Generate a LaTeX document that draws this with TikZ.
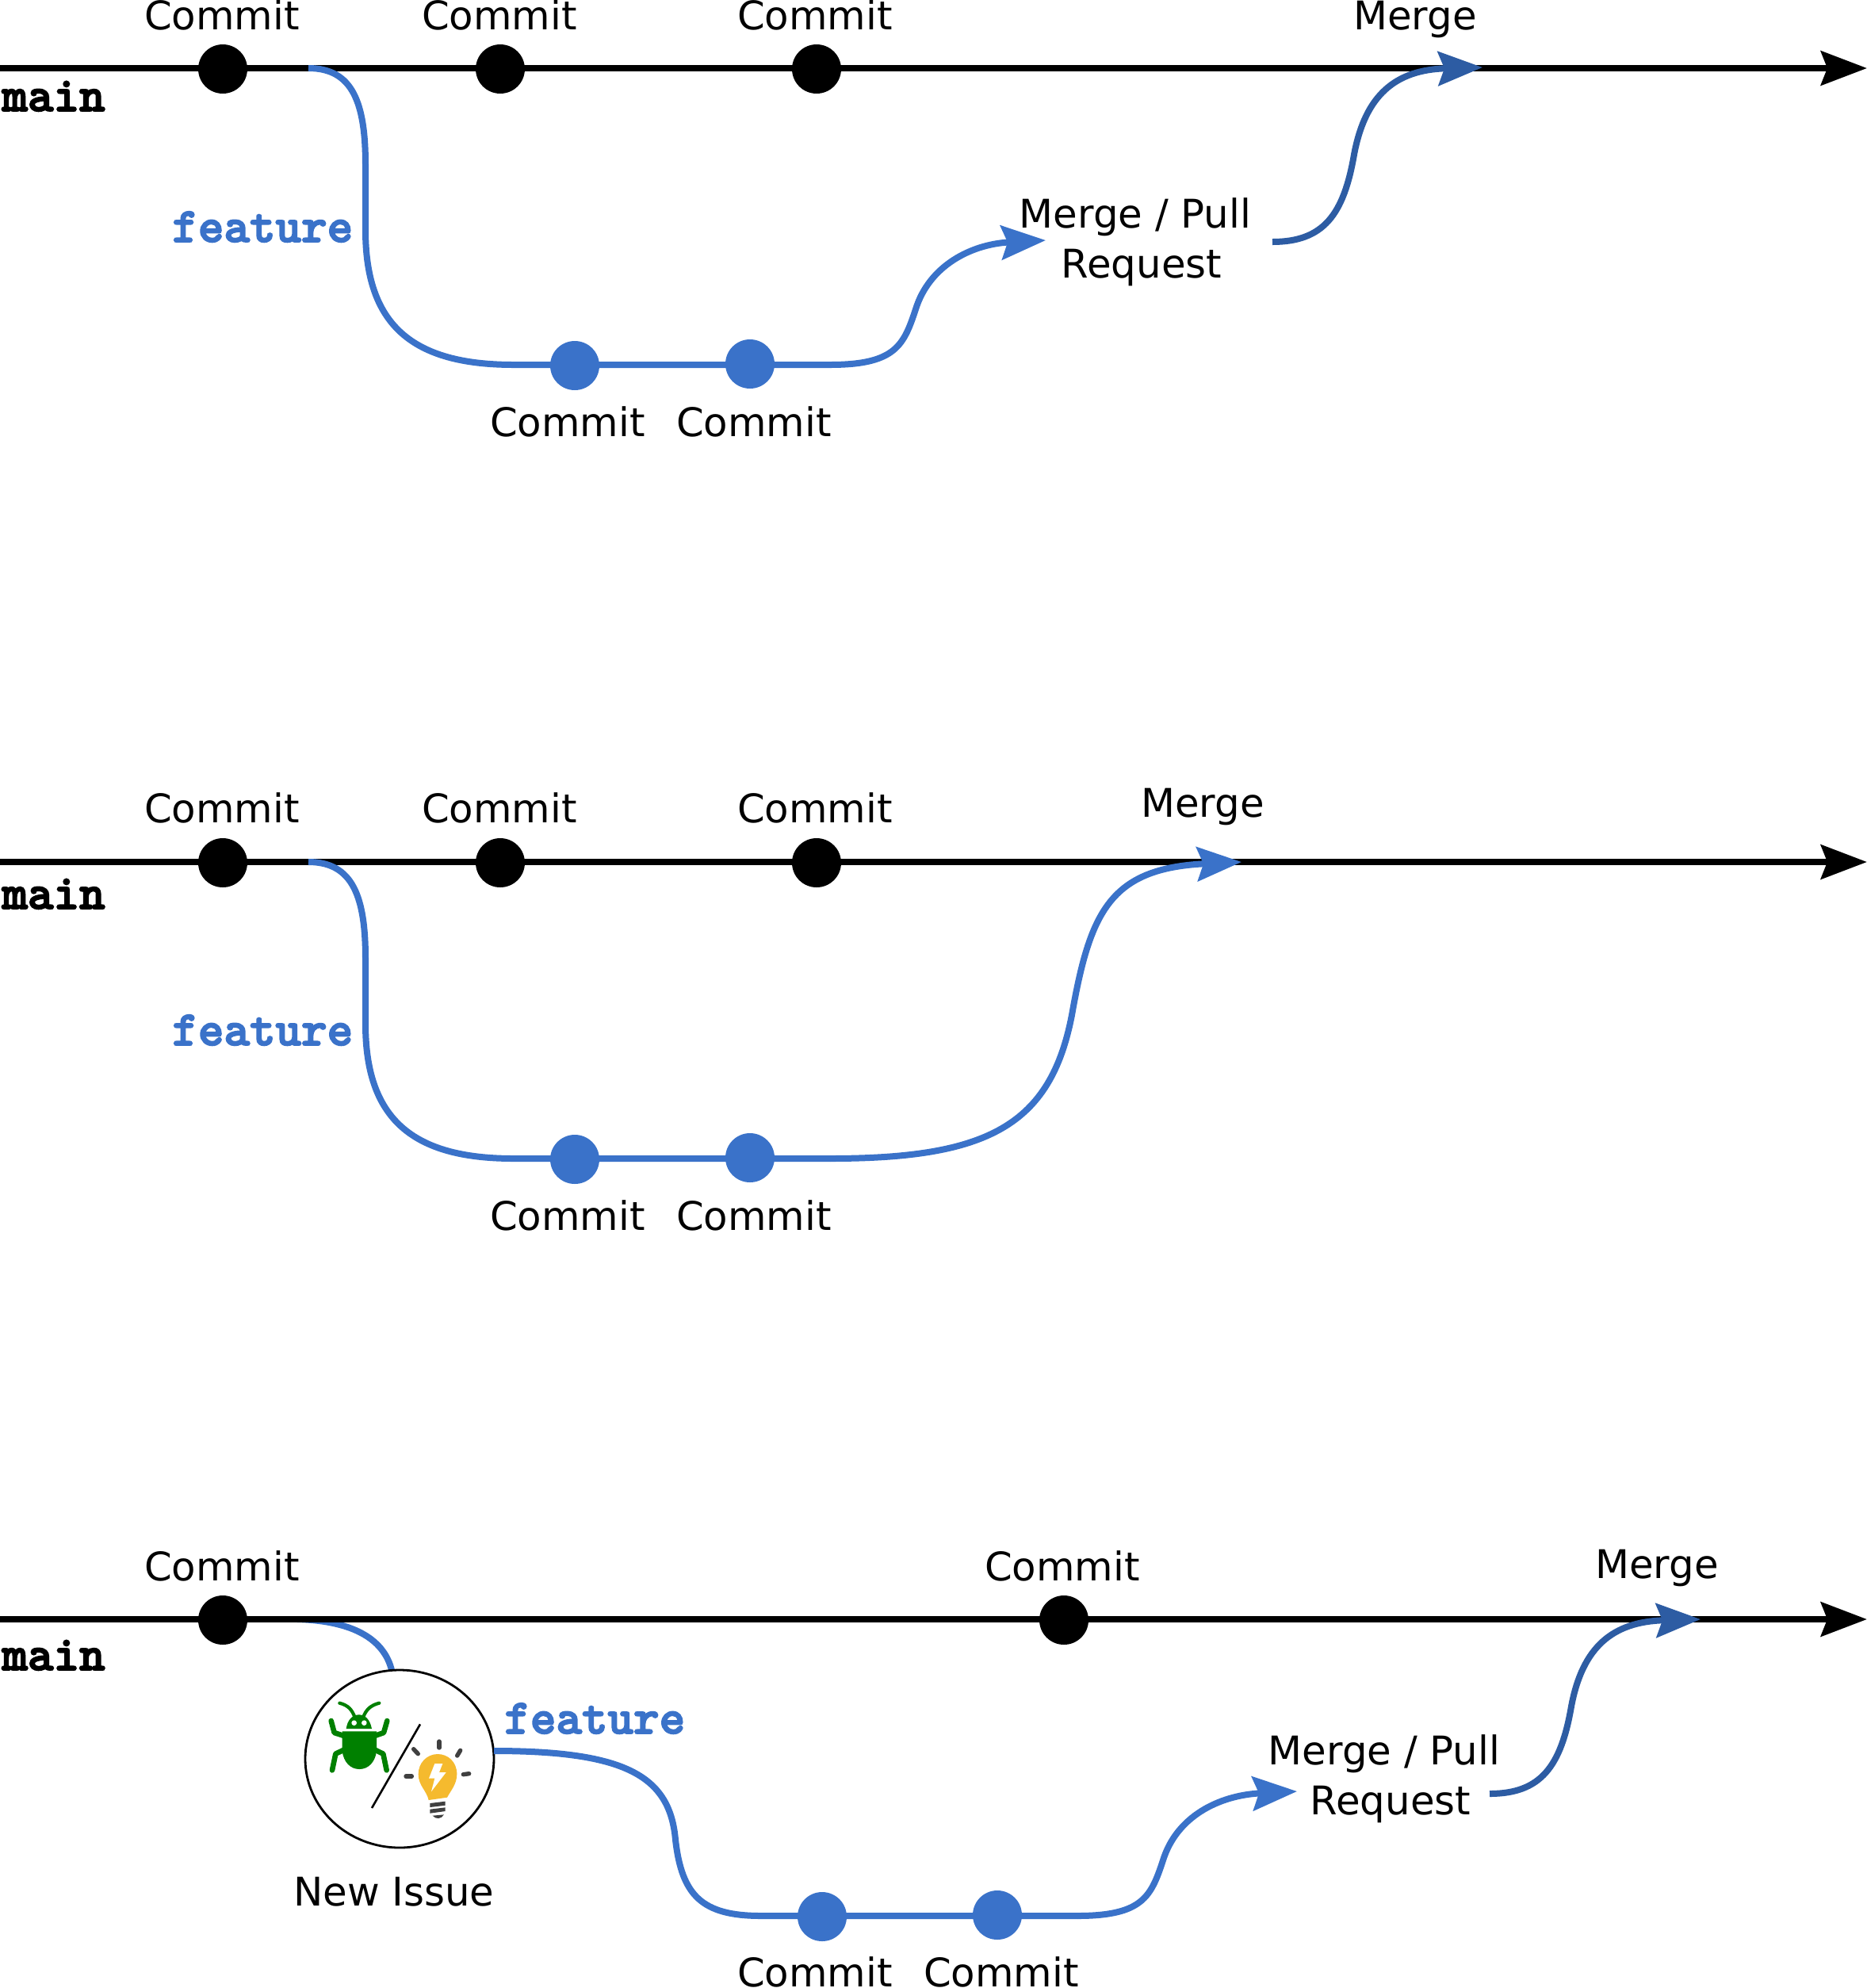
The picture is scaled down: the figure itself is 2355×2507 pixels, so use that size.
\documentclass[tikz,border=0pt]{standalone}
\usepackage{fontspec}
\setmainfont{DejaVu Sans}
\usetikzlibrary{arrows.meta,shapes.geometric}
\definecolor{fblue}{HTML}{3A72C9}
\definecolor{mblue}{HTML}{2D5CA3}
\definecolor{bugg}{HTML}{008000}
\definecolor{bulby}{HTML}{F5BA2E}
\definecolor{bulbd}{HTML}{404040}
\newcommand\heavytext[1]{\special{pdf:code 2 Tr 0.9 w}#1\special{pdf:code 0 Tr 1 w}}
\tikzset{
  lbl/.style={anchor=base,inner sep=0pt,outer sep=0pt,font=\fontsize{24.9pt}{31.5pt}\selectfont,align=center},
  mainlbl/.style={anchor=base west,inner sep=0pt,font=\fontsize{31pt}{33pt}\selectfont\ttfamily\bfseries},
  featlbl/.style={mainlbl,text=fblue},
  mainline/.style={line width=4.4pt,draw=black,-{Stealth[length=29pt,width=21.5pt,inset=4pt]}},
  fline/.style={line width=4pt,draw=fblue},
  farrow/.style={fline,-{Stealth[length=28pt,width=21.5pt,inset=4pt]}},
  marrow/.style={line width=4pt,draw=mblue,-{Stealth[length=28pt,width=21.5pt,inset=4pt]}},
  bdot/.style={circle,fill=black,inner sep=0pt,minimum size=31pt},
  fdot/.style={circle,fill=fblue,inner sep=0pt,minimum size=31pt},
}
\begin{document}
\begin{tikzpicture}[x=0.5pt,y=-0.5pt]
\useasboundingbox[fill=white] (0,0) rectangle (2355,2507);
% ---------- panel 1
\coordinate (as) at (0,86); \coordinate (ae) at (2355,86);
\draw[mainline] (as) -- (ae);
\coordinate (af0) at (389,86);
\coordinate (af1) at (648,460);
\coordinate (af2) at (1047,460);
\coordinate (atip) at (1319,303);
\coordinate (amerge0) at (1605,305);
\coordinate (amerge1) at (1870,85);
\draw[fline] (af0) .. controls (445,86) and (461,130) .. (461,208) -- (461,290) .. controls (461,410) and (520,460) .. (af1) -- (af2);
\draw[farrow] (af2) .. controls (1130,460) and (1140,435) .. (1155,390) .. controls (1172,335) and (1225,308) .. (atip);
\draw[marrow] (amerge0) .. controls (1670,305) and (1695,270) .. (1708,195) .. controls (1722,120) and (1760,88) .. (amerge1);
\node[bdot] (ac1) at (281,87) {};
\node[bdot] (ac2) at (631,87) {};
\node[bdot] (ac3) at (1030,87) {};
\node[fdot] (af3) at (725,461) {};
\node[fdot] (af4) at (946,459) {};
\node[lbl] (al1) at (280,37) {Commit};
\node[lbl] (al2) at (630,37) {Commit};
\node[lbl] (al3) at (1028,37) {Commit};
\node[lbl] (al4) at (1785,37) {Merge};
\node[lbl] (al5) at (716,550) {Commit};
\node[lbl] (al6) at (951,550) {Commit};
\node[lbl] (al7) at (1432,350) {Merge / Pull\\\hspace*{8pt}Request};
\node[mainlbl] (al8) at (2,140) {\heavytext{main}};
\node[featlbl] (al9) at (217,305) {\heavytext{feature}};
% ---------- panel 2
\coordinate (bs) at (0,1087); \coordinate (be) at (2355,1087);
\draw[mainline] (bs) -- (be);
\coordinate (bf0) at (389,1087);
\coordinate (bf1) at (648,1461);
\coordinate (bf2) at (1047,1461);
\coordinate (btip) at (1566,1087);
\draw[fline] (bf0) .. controls (445,1087) and (461,1131) .. (461,1209) -- (461,1291) .. controls (461,1411) and (520,1461) .. (bf1) -- (bf2);
\draw[farrow] (bf2) .. controls (1245,1461) and (1325,1420) .. (1352,1280) .. controls (1375,1150) and (1400,1095) .. (btip);
\node[bdot] (bc1) at (281,1088) {};
\node[bdot] (bc2) at (631,1088) {};
\node[bdot] (bc3) at (1030,1088) {};
\node[fdot] (bf3) at (725,1462) {};
\node[fdot] (bf4) at (946,1460) {};
\node[lbl] (bl1) at (280,1037) {Commit};
\node[lbl] (bl2) at (630,1037) {Commit};
\node[lbl] (bl3) at (1517,1030) {Merge};
\node[lbl] (bl4) at (1028,1037) {Commit};
\node[lbl] (bl5) at (716,1551) {Commit};
\node[lbl] (bl6) at (951,1551) {Commit};
\node[mainlbl] (bl7) at (2,1146) {\heavytext{main}};
\node[featlbl] (bl8) at (217,1318) {\heavytext{feature}};
% ---------- panel 3
\coordinate (cs) at (0,2042); \coordinate (ce) at (2355,2042);
\coordinate (cf0) at (375,2042);
\coordinate (cf00) at (494,2106);
\draw[fline] (cf0) .. controls (450,2044) and (485,2070) .. (cf00);
\draw[mainline] (cs) -- (ce);
\node[ellipse,draw=black,fill=white,line width=1.4pt,inner sep=0pt,minimum width=119pt,minimum height=112pt] (issue) at (504,2218) {};
\coordinate (cf1) at (623,2208);
\coordinate (cf2) at (960,2416);
\coordinate (cf3) at (1359,2416);
\coordinate (ctip) at (1636,2259);
\coordinate (cmerge0) at (1879,2262);
\coordinate (cmerge1) at (2145,2042);
\draw[fline] (cf1) .. controls (790,2208) and (845,2240) .. (852,2320) .. controls (860,2390) and (885,2416) .. (cf2) -- (cf3);
\draw[farrow] (cf3) .. controls (1442,2416) and (1452,2391) .. (1467,2346) .. controls (1484,2291) and (1537,2264) .. (ctip);
\draw[marrow] (cmerge0) .. controls (1944,2262) and (1969,2227) .. (1982,2152) .. controls (1996,2077) and (2034,2045) .. (cmerge1);
\node[bdot] (cc1) at (281,2043) {};
\node[bdot] (cc2) at (1342,2043) {};
\node[fdot] (cf4) at (1037,2417) {};
\node[fdot] (cf5) at (1258,2415) {};
\node[lbl] (cl1) at (280,1993) {Commit};
\node[lbl] (cl2) at (1340,1993) {Commit};
\node[lbl] (cl3) at (2090,1990) {Merge};
\node[lbl] (cl4) at (1028,2505) {Commit};
\node[lbl] (cl5) at (1263,2505) {Commit};
\node[lbl] (cl6) at (497,2403) {New Issue};
\node[lbl] (cl7) at (1746,2288) {Merge / Pull\\\hspace*{8pt}Request};
\node[mainlbl] (cl8) at (2,2106) {\heavytext{main}};
\node[featlbl] (cl9) at (636,2186) {\heavytext{feature}};
% ---------- icons (zoom-crop coordinates)
\begin{scope}[shift={(340,2000)},x=0.16667pt,y=-0.16667pt]
  % bug
  \fill[bugg] (290,540) .. controls (295,505) and (315,487) .. (338,487) .. controls (362,487) and (380,505) .. (387,540) -- cycle;
  \fill[white] (320,518) circle [radius=10]; \fill[white] (358,518) circle [radius=10];
  \fill[bugg] (275,550) -- (405,550) -- (405,625) .. controls (400,665) and (375,693) .. (340,693) .. controls (305,693) and (280,665) .. (275,625) -- cycle;
  \draw[bugg,line width=3.3pt,line cap=round,line join=round] (233,510) -- (245,555) -- (285,568);
  \draw[bugg,line width=3.3pt,line cap=round,line join=round] (445,510) -- (432,555) -- (395,568);
  \draw[bugg,line width=3.3pt,line cap=round,line join=round] (237,697) -- (250,635) -- (285,618);
  \draw[bugg,line width=3.3pt,line cap=round,line join=round] (443,697) -- (430,635) -- (395,618);
  \draw[bugg,line width=2.1pt,line cap=round] (265,443) .. controls (300,452) and (312,470) .. (322,495);
  \draw[bugg,line width=2.1pt,line cap=round] (415,443) .. controls (380,452) and (365,470) .. (355,495);
  % slash
  \draw[black,line width=1.3pt] (570,523) -- (387,840);
  % bulb
  \fill[bulby] (602,810) -- (672,800) .. controls (685,775) and (709,750) .. (709,712) .. controls (709,665) and (675,636) .. (636,636) .. controls (595,636) and (563,670) .. (563,712) .. controls (563,755) and (595,775) .. (602,810) -- cycle;
  \fill[white] (625,672) -- (655,672) -- (642,705) -- (668,705) -- (612,778) -- (625,728) -- (603,728) -- cycle;
  \fill[bulbd] (607,822) -- (665,815) -- (665,830) -- (607,837) -- cycle;
  \fill[bulbd] (607,845) -- (665,838) -- (665,852) -- (607,860) -- cycle;
  \fill[bulbd] (617,869) -- (660,865) .. controls (650,882) and (630,884) .. (617,869) -- cycle;
  \draw[bulbd,line width=2.7pt,line cap=round] (642,588) -- (642,612);
  \draw[bulbd,line width=2.7pt,line cap=round] (545,617) -- (562,635);
  \draw[bulbd,line width=2.7pt,line cap=round] (722,622) -- (710,642);
  \draw[bulbd,line width=2.7pt,line cap=round] (516,720) -- (538,720);
  \draw[bulbd,line width=2.7pt,line cap=round] (733,713) -- (755,710);
\end{scope}
\end{tikzpicture}
\end{document}
